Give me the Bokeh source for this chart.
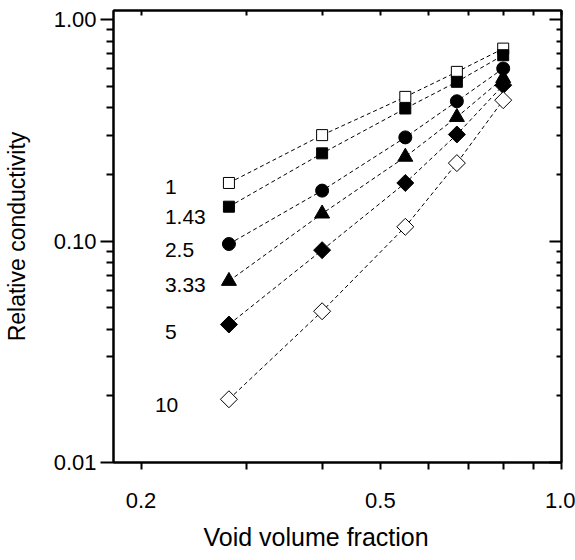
from bokeh.plotting import figure
from bokeh.models import (Range1d, FixedTicker, PrintfTickFormatter, LogAxis, Title,
                          ColumnDataSource, CustomJSTickFormatter)
from bokeh.core.properties import value
from bokeh.embed import file_html
from bokeh.resources import INLINE

# ---- data ----
void_fraction = [0.28, 0.40, 0.55, 0.67, 0.80]
series_names = ["1", "1.43", "2.5", "3.33", "5", "10"]
cond_1 = [0.183, 0.301, 0.448, 0.581, 0.740]
cond_1_43 = [0.143, 0.249, 0.397, 0.524, 0.691]
cond_2_5 = [0.097, 0.169, 0.294, 0.428, 0.602]
cond_3_33 = [0.066, 0.133, 0.240, 0.363, 0.544]
cond_5 = [0.042, 0.091, 0.183, 0.303, 0.506]
cond_10 = [0.0193, 0.0482, 0.116, 0.225, 0.433]
x_ticks = [0.2, 0.5, 1.0]
x_minor = [0.3, 0.4, 0.6, 0.7, 0.8, 0.9]
y_ticks = [0.01, 0.1, 1.0]
y_minor = [k * d for d in (0.01, 0.1) for k in range(2, 10)]

series = [cond_1, cond_1_43, cond_2_5, cond_3_33, cond_5, cond_10]

# ---- styles ----
FONT = "Liberation Sans"
markers = ["square", "square", "circle", "triangle", "square", "square"]
angles = [0, 0, 0, 0, 0.785398, 0.785398]
sizes = [11, 11, 13, 15, 12, 12]
fills = ["white", "black", "black", "black", "black", "white"]
label_dx = [-64, -64, -64, -64, -64, -74]
label_dy = [4, 10, 6, 4, 7, 6]

p = figure(width=575, height=560, x_axis_type="log", y_axis_type="log",
           x_range=Range1d(0.18, 1.0), y_range=Range1d(0.01, 1.1),
           output_backend="svg", toolbar_location=None, title=None,
           min_border_left=112, min_border_right=14, min_border_top=10,
           min_border_bottom=97)
p.background_fill_color = "white"
p.border_fill_color = "white"
p.xgrid.visible = False
p.ygrid.visible = False
p.outline_line_color = "black"
p.outline_line_width = 2

xt = FixedTicker(ticks=x_ticks, minor_ticks=x_minor)
yt = FixedTicker(ticks=y_ticks, minor_ticks=y_minor)


def style_axis(ax):
    ax.axis_line_width = 2
    ax.axis_line_color = "black"
    ax.major_tick_line_width = 2
    ax.minor_tick_line_width = 2
    ax.major_tick_line_color = "black"
    ax.minor_tick_line_color = "black"
    ax.major_label_text_font = FONT
    ax.major_label_text_font_size = "22px"
    ax.major_label_text_color = "black"
    ax.axis_label_text_font = FONT
    ax.axis_label_text_font_style = "normal"
    ax.axis_label_text_color = "black"


xa = p.xaxis[0]
xa.ticker = xt
xa.formatter = PrintfTickFormatter(format="%.1f")
style_axis(xa)
xa.major_tick_out = 7
xa.major_tick_in = 0
xa.minor_tick_out = 7
xa.minor_tick_in = 0
xa.major_label_standoff = 23

ya = p.yaxis[0]
ya.ticker = yt
ya.formatter = PrintfTickFormatter(format="%.2f")
style_axis(ya)
ya.major_tick_out = 13
ya.major_tick_in = 0
ya.minor_tick_out = 7
ya.minor_tick_in = 0
ya.major_label_standoff = 4
ya.axis_label = "Relative conductivity"
ya.axis_label_text_font_size = "23px"
ya.axis_label_standoff = 21

blank = CustomJSTickFormatter(code="return ''")
top = LogAxis(ticker=xt, formatter=blank)
style_axis(top)
top.major_tick_in = 5
top.major_tick_out = 0
top.minor_tick_in = 5
top.minor_tick_out = 0
top.major_label_standoff = 0
p.add_layout(top, "above")

right = LogAxis(ticker=yt, formatter=blank)
style_axis(right)
right.major_tick_in = 12
right.major_tick_out = 0
right.minor_tick_in = 5
right.minor_tick_out = 0
right.major_label_standoff = 0
p.add_layout(right, "right")

# dashed connecting lines
for vals in series:
    p.line(void_fraction, vals, line_color="black", line_width=1, line_dash="4 3")

# markers
for vals, m, a, s, f in zip(series, markers, angles, sizes, fills):
    p.scatter(void_fraction, vals, marker=m, angle=a, size=s, fill_color=f,
              line_color="black", line_width=1)

# series labels
src = ColumnDataSource(dict(
    x=[void_fraction[0]] * len(series),
    y=[v[0] for v in series],
    t=series_names,
    dx=label_dx,
    dy=label_dy,
))
p.text(x="x", y="y", text="t", x_offset="dx", y_offset="dy", source=src,
       text_font=value(FONT), text_font_size=value("21px"),
       text_align="left", text_baseline="middle", text_color="black")

xtitle = Title(text="Void volume fraction", align="left", offset=90,
               text_font=FONT, text_font_size="25px", text_font_style="normal",
               text_color="black", standoff=20)
p.add_layout(xtitle, "below")

open("out.html", "w").write(file_html(p, INLINE))
